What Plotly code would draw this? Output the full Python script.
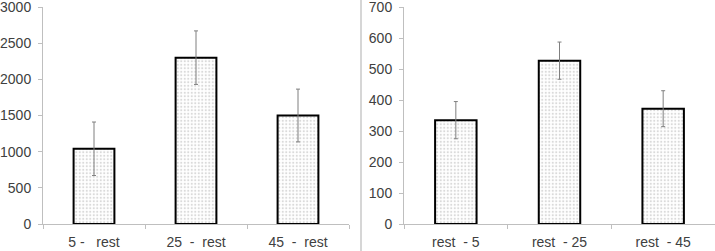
import plotly.graph_objects as go

NB = "\u00a0"
left_cats = ["5 -" + NB*3 + "rest", "25" + NB*2 + "-" + NB*2 + "rest", "45" + NB*2 + "-" + NB*2 + "rest"]
left_vals = [1040, 2300, 1500]
left_err = [370, 370, 365]
left_ticks = [0, 500, 1000, 1500, 2000, 2500, 3000]

right_cats = ["rest" + NB*2 + "- 5", "rest" + NB*2 + "- 25", "rest" + NB*2 + "- 45"]
right_vals = [335, 527, 372]
right_err = [60, 60, 58]
right_ticks = [0, 100, 200, 300, 400, 500, 600, 700]

W, H = 715, 251
def fx(px):
    return px / W
def fy(py):
    return 1 - py / H

fig = go.Figure()

bar_style = dict(
    marker=dict(
        color="white",
        line=dict(color="black", width=2),
        pattern=dict(shape=".", fgcolor="#b4b4b4", bgcolor="white", size=3.5, solidity=0.3),
    ),
    width=0.4,
)
err_style = dict(type="data", visible=True, color="#7f7f7f", thickness=1, width=2)

fig.add_trace(go.Bar(x=left_cats, y=left_vals, error_y=dict(array=left_err, **err_style),
                     xaxis="x", yaxis="y", **bar_style))
fig.add_trace(go.Bar(x=right_cats, y=right_vals, error_y=dict(array=right_err, **err_style),
                     xaxis="x2", yaxis="y2", **bar_style))

font = dict(family="Liberation Sans, Arial, sans-serif", size=14, color="#404040")
axcol = "#bfbfbf"

xcommon = dict(type="category", showline=True, linecolor=axcol, linewidth=1, ticks="outside",
               tickson="boundaries", ticklen=4, tickcolor=axcol, showgrid=False, zeroline=False,
               tickfont=font, ticklabelstandoff=5, fixedrange=True, automargin=False)
ycommon = dict(showline=True, linecolor=axcol, linewidth=1, ticks="outside", ticklen=4,
               tickcolor=axcol, showgrid=False, zeroline=False, tickfont=font,
               ticklabeloverflow="allow", ticklabelstandoff=4, automargin=False)

fig.update_layout(
    width=W, height=H,
    margin=dict(l=0, r=0, t=0, b=0),
    paper_bgcolor="white", plot_bgcolor="white",
    showlegend=False,
    xaxis=dict(domain=[fx(43), fx(349)], anchor="y", **xcommon),
    yaxis=dict(domain=[fy(224), fy(7)], anchor="x", range=[0, 3000.5],
               tickmode="array", tickvals=left_ticks, ticktext=[str(v) for v in left_ticks], **ycommon),
    xaxis2=dict(domain=[fx(404), 1.0], anchor="y2", **xcommon),
    yaxis2=dict(domain=[fy(224), fy(7)], anchor="x2", range=[0, 700.1],
                tickmode="array", tickvals=right_ticks, ticktext=[str(v) for v in right_ticks], **ycommon),
    shapes=[dict(type="line", xref="paper", yref="paper", x0=fx(361), x1=fx(361), y0=0, y1=1,
                 line=dict(color="#c8c8c8", width=1.5))],
)

fig.write_html("out.html", config={"displayModeBar": False},
               post_script="document.body.style.margin='0';document.body.style.overflow='hidden';")
